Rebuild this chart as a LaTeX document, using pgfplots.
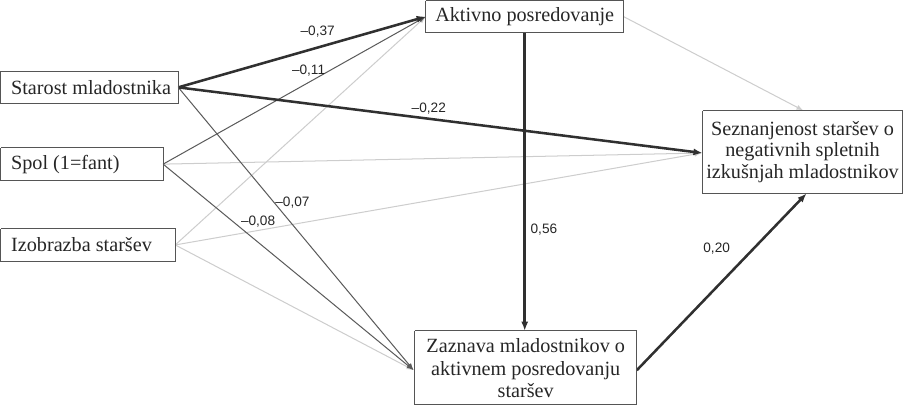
\documentclass[border=0pt]{standalone}
\usepackage{fontspec}
\setmainfont{Liberation Serif}
\newfontfamily\lab{Liberation Sans}
\usepackage{pgfplots}
\pgfplotsset{compat=1.18}
\usetikzlibrary{arrows.meta}
\definecolor{cthick}{HTML}{303030}
\definecolor{cthin}{HTML}{5A5A5A}
\definecolor{clight}{HTML}{CDCDCD}
\definecolor{cbox}{HTML}{555555}
\begin{document}
\begin{tikzpicture}
\begin{axis}[
  width=903pt, height=415pt, scale only axis,
  xmin=0, xmax=903, ymin=0, ymax=415, y dir=reverse,
  hide axis, clip=false,
]
% light paths
\addplot[color=clight, line width=1pt, -{Latex[length=7pt,width=5pt]}] coordinates {(180,248) (428,22)};
\addplot[color=clight, line width=1pt, -{Latex[length=7pt,width=5pt]}] coordinates {(168,168) (701,157)};
\addplot[color=clight, line width=1pt, -{Latex[length=7pt,width=5pt]}] coordinates {(180,248) (701,157)};
\addplot[color=clight, line width=1pt, -{Latex[length=7pt,width=5pt]}] coordinates {(180,248) (416,372)};
\addplot[color=clight, line width=1pt, -{Latex[length=7pt,width=5pt]}] coordinates {(624,22) (802,115)};
% thin dark paths
\addplot[color=cthin, line width=1pt, -{Latex[length=7pt,width=5pt]}] coordinates {(168,168) (428,22)};
\addplot[color=cthin, line width=1pt, -{Latex[length=7pt,width=5pt]}] coordinates {(183,92) (416,372)};
\addplot[color=cthin, line width=1pt, -{Latex[length=7pt,width=5pt]}] coordinates {(168,168) (416,372)};
% thick paths
\addplot[color=cthick, line width=2.5pt, -{Latex[length=9pt,width=7pt]}] coordinates {(183,92) (428,22)};
\addplot[color=cthick, line width=2.5pt, -{Latex[length=9pt,width=7pt]}] coordinates {(183,92) (702,157)};
\addplot[color=cthick, line width=2.5pt, -{Latex[length=9pt,width=7pt]}] coordinates {(526,38) (526,333)};
\addplot[color=cthick, line width=2.5pt, -{Latex[length=9pt,width=7pt]}] coordinates {(637,372) (805,197)};
% boxes
\addplot[color=cbox, line width=1pt] coordinates {(7,76) (183,76) (183,108) (7,108) (7,76)};
\addplot[color=cbox, line width=1pt] coordinates {(7,152) (168,152) (168,184) (7,184) (7,152)};
\addplot[color=cbox, line width=1pt] coordinates {(7,232) (180,232) (180,264) (7,264) (7,232)};
\addplot[color=cbox, line width=1pt] coordinates {(428,6) (624,6) (624,38) (428,38) (428,6)};
\addplot[color=cbox, line width=1pt] coordinates {(702,115) (900,115) (900,197) (702,197) (702,115)};
\addplot[color=cbox, line width=1pt] coordinates {(417,333) (637,333) (637,406) (417,406) (417,333)};
% box texts
\node[anchor=west, font=\fontsize{20}{24}\selectfont, text=black!85] at (axis cs:14,92) {Starost mladostnika};
\node[anchor=west, font=\fontsize{20}{24}\selectfont, text=black!85] at (axis cs:14,168) {Spol (1=fant)};
\node[anchor=west, font=\fontsize{20}{24}\selectfont, text=black!85] at (axis cs:14,248) {Izobrazba staršev};
\node[font=\fontsize{20}{24}\selectfont, text=black!85] at (axis cs:526,22) {Aktivno posredovanje};
\node[align=center, font=\fontsize{20}{21}\selectfont, text=black!85] at (axis cs:801,156) {Seznanjenost staršev o\\negativnih spletnih\\izkušnjah mladostnikov};
\node[align=center, font=\fontsize{20}{22}\selectfont, text=black!85] at (axis cs:527,370) {Zaznava mladostnikov o\\aktivnem posredovanju\\staršev};
% coefficient labels
\node[font=\lab\fontsize{13.5}{15}\selectfont, text=black!85] at (axis cs:321,37) {–0,37};
\node[font=\lab\fontsize{13.5}{15}\selectfont, text=black!85] at (axis cs:312,75) {–0,11};
\node[font=\lab\fontsize{13.5}{15}\selectfont, text=black!85] at (axis cs:431,113) {–0,22};
\node[font=\lab\fontsize{13.5}{15}\selectfont, text=black!85] at (axis cs:296,206) {–0,07};
\node[font=\lab\fontsize{13.5}{15}\selectfont, text=black!85] at (axis cs:262,225) {–0,08};
\node[font=\lab\fontsize{13.5}{15}\selectfont, text=black!85] at (axis cs:545,233) {0,56};
\node[font=\lab\fontsize{13.5}{15}\selectfont, text=black!85] at (axis cs:716,252) {0,20};
\end{axis}
\end{tikzpicture}
\end{document}
